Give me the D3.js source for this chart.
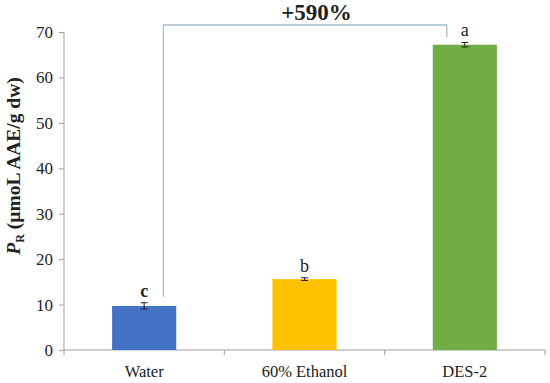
<!DOCTYPE html>
<head>
    <script src="https://d3js.org/d3.v7.min.js"></script>
    <style>
        body { margin: 0; background: #fff; }
    </style>
</head>
<body>
    <svg></svg>
</body>

<script>
    // Data
    var categories = ["Water", "60% Ethanol", "DES-2"];
    var values = [9.7, 15.6, 67.2];
    var errors = [0.7, 0.3, 0.5];
    var letters = ["c", "b", "a"];
    var colors = ["#4472c4", "#ffc000", "#70ad47"];
    var yTicks = [0, 10, 20, 30, 40, 50, 60, 70];

    var serif = '"Liberation Serif", "DejaVu Serif", "Times New Roman", serif';

    // Variables
    var width = 550;
    var height = 383;
    var margin = { top: 32, right: 5, bottom: 33, left: 64 };

    var svg = d3.select('svg')
        .attr('width', width)
        .attr('height', height)
        .style('font-family', serif);

    var x = d3.scaleBand()
        .domain(categories)
        .range([margin.left, width - margin.right])
        .paddingInner(0.6)
        .paddingOuter(0.3);

    var y = d3.scaleLinear()
        .domain([0, 70])
        .range([height - margin.bottom, margin.top]);

    // Y axis
    var yAxis = svg.append('g')
        .attr('transform', 'translate(' + margin.left + ',0)')
        .call(d3.axisLeft(y).tickValues(yTicks).tickSize(5).tickPadding(6));
    yAxis.attr('font-family', null).attr('font-size', null);
    yAxis.selectAll('line, path').attr('stroke', '#a0a0a0');
    yAxis.select('.domain').attr('d', 'M0,' + y(70) + 'V' + y(0));
    yAxis.selectAll('text')
        .style('font-family', serif)
        .style('font-size', '17px')
        .attr('fill', '#222');

    // X axis with ticks between categories
    var xAxisG = svg.append('g')
        .attr('transform', 'translate(0,' + y(0) + ')');
    var x0 = margin.left, x1 = width - margin.right;
    var step = (x1 - x0) / categories.length;
    xAxisG.append('line')
        .attr('x1', x0).attr('x2', x1)
        .attr('stroke', '#a0a0a0');
    d3.range(categories.length + 1).forEach(function (i) {
        xAxisG.append('line')
            .attr('x1', x0 + i * step).attr('x2', x0 + i * step)
            .attr('y1', 0).attr('y2', 5)
            .attr('stroke', '#a0a0a0');
    });
    xAxisG.selectAll('text.cat')
        .data(categories)
        .enter().append('text')
        .attr('class', 'cat')
        .attr('x', function (d) { return x(d) + x.bandwidth() / 2; })
        .attr('y', 27)
        .attr('text-anchor', 'middle')
        .attr('fill', '#222')
        .style('font-family', serif)
        .style('font-size', '16.5px')
        .text(function (d) { return d; });

    // Bars
    svg.selectAll('rect.bar')
        .data(values)
        .enter().append('rect')
        .attr('class', 'bar')
        .attr('x', function (d, i) { return x(categories[i]); })
        .attr('y', function (d) { return y(d); })
        .attr('width', x.bandwidth())
        .attr('height', function (d) { return y(0) - y(d); })
        .attr('fill', function (d, i) { return colors[i]; });

    // Error bars
    var eb = svg.selectAll('g.err')
        .data(values)
        .enter().append('g')
        .attr('class', 'err')
        .attr('stroke', '#222')
        .attr('stroke-width', 1);
    eb.append('line')
        .attr('x1', function (d, i) { return x(categories[i]) + x.bandwidth() / 2; })
        .attr('x2', function (d, i) { return x(categories[i]) + x.bandwidth() / 2; })
        .attr('y1', function (d, i) { return y(d + errors[i]); })
        .attr('y2', function (d, i) { return y(d - errors[i]); });
    [1, -1].forEach(function (s) {
        eb.append('line')
            .attr('x1', function (d, i) { return x(categories[i]) + x.bandwidth() / 2 - 3.5; })
            .attr('x2', function (d, i) { return x(categories[i]) + x.bandwidth() / 2 + 3.5; })
            .attr('y1', function (d, i) { return y(d + s * errors[i]); })
            .attr('y2', function (d, i) { return y(d + s * errors[i]); });
    });

    // Significance letters
    svg.selectAll('text.letter')
        .data(values)
        .enter().append('text')
        .attr('class', 'letter')
        .attr('x', function (d, i) { return x(categories[i]) + x.bandwidth() / 2; })
        .attr('y', function (d, i) { return y(d + errors[i]) - 6; })
        .attr('text-anchor', 'middle')
        .attr('fill', '#222')
        .style('font-family', serif)
        .style('font-size', '18px')
        .style('font-weight', function (d, i) { return i === 0 ? 'bold' : 'normal'; })
        .text(function (d, i) { return letters[i]; });

    // Bracket Water -> DES-2
    var bx1 = x0 + step * 0.62;
    var bx2 = x(categories[2]) + x.bandwidth() / 2 - 18;
    var by = 25;
    svg.append('path')
        .attr('d', 'M' + bx1 + ',' + (y(values[0] + errors[0]) - 6) +
            'V' + by + 'H' + bx2 + 'V' + 37)
        .attr('fill', 'none')
        .attr('stroke', '#a9bccb')
        .attr('stroke-width', 1.3);
    svg.append('text')
        .attr('x', bx1 + (bx2 - bx1) * 0.54)
        .attr('y', 20)
        .attr('text-anchor', 'middle')
        .attr('fill', '#222')
        .style('font-family', serif)
        .style('font-size', '23px')
        .style('font-weight', 'bold')
        .text('+590%');

    // Y label
    var yl = svg.append('text')
        .attr('transform', 'translate(20,166) rotate(-90)')
        .attr('text-anchor', 'middle')
        .attr('fill', '#222')
        .style('font-family', serif)
        .style('font-size', '19.5px')
        .style('font-weight', 'bold');
    yl.append('tspan').style('font-style', 'italic').text('P');
    yl.append('tspan').attr('dy', 4).style('font-size', '12px').text('R');
    yl.append('tspan').attr('dy', -4).text(' (µmoL AAE/g dw)');
</script>
